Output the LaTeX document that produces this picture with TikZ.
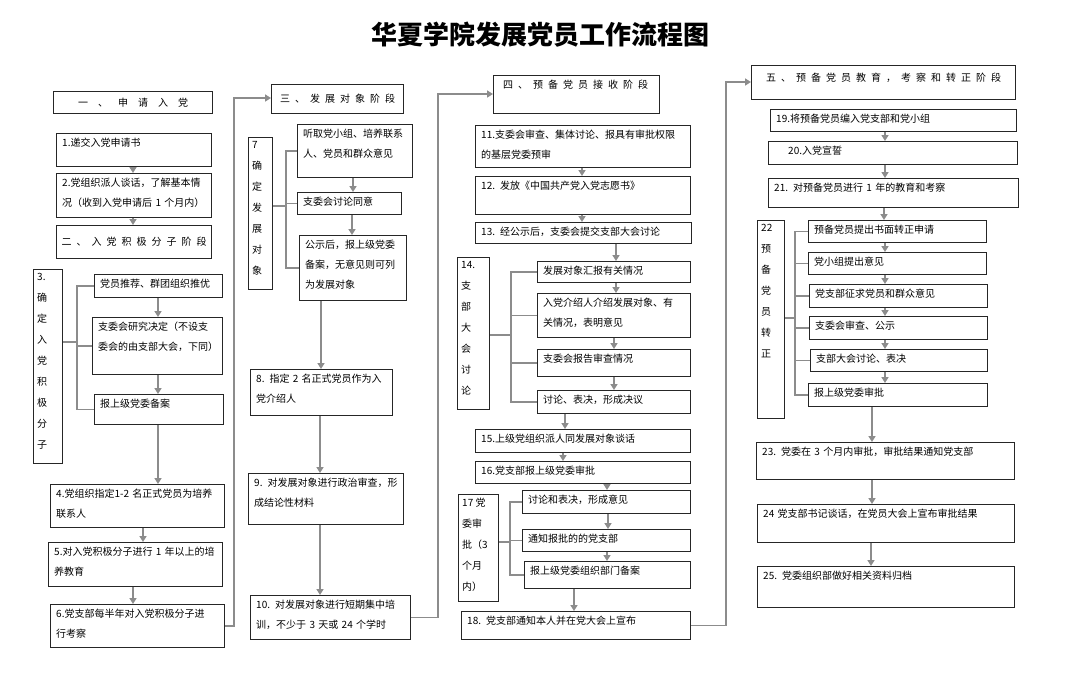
\documentclass[tikz,border=0pt]{standalone}
\usepackage{fontspec}
\setmainfont{Noto Sans CJK SC}
\usetikzlibrary{positioning, arrows.meta}

% box with its text set at the top left
\newcommand{\fbx}[6]{%
	\node[box, minimum width={#4-#2}, minimum height={#5-#3}] (#1) at (#2,-#3) {};
	\node[txt, text width={#4-#2-8}] (#1t) at ([shift={(4,-3)}]#1.north west) {#6};
}

\begin{document}
\begin{tikzpicture}[x=1pt, y=1pt,
		box/.style={rectangle, draw=black!85, line width=1.1pt, anchor=north west, inner sep=0pt},
		txt/.style={anchor=north west, inner sep=2pt, align=left, font=\fontsize{10}{20}\selectfont},
		vtxt/.style={anchor=north west, inner sep=2pt, align=left, font=\fontsize{10}{21}\selectfont},
		htxt/.style={anchor=center, inner sep=0pt, font=\fontsize{10}{12}\selectfont},
		arr/.style={draw=black!45, line width=1.7pt, -{Triangle[length=6pt, width=7pt]}},
		brk/.style={draw=black!45, line width=1.4pt}
	]
	\useasboundingbox[fill=white] (0,0) rectangle (1080,-673);

	\node[font=\fontsize{26}{30}\selectfont\bfseries] (title) at (540,-35) {华夏学院发展党员工作流程图};

	% column one
	\fbx{h1}{53}{91}{212}{113}{}
	\node[htxt] (h1t) at (h1) {一\quad 、\quad 申\quad 请\quad 入\quad 党};
	\fbx{b1}{56}{133}{211}{166}{1.递交入党申请书}
	\fbx{b2}{56}{173}{211}{217}{2.党组织派人谈话，了解基本情\\况（收到入党申请后 1 个月内）}
	\fbx{h2}{56}{225}{211}{258}{}
	\node[htxt] (h2t) at (h2) {二\enspace 、\enspace 入\enspace 党\enspace 积\enspace 极\enspace 分\enspace 子\enspace 阶\enspace 段};
	\node[box, minimum width=29, minimum height=194] (l3) at (33,-269) {};
	\node[vtxt] (l3t) at ([shift={(2,-2)}]l3.north west) {3.\\确\\定\\入\\党\\积\\极\\分\\子};
	\fbx{sa}{94}{274}{222}{297}{党员推荐、群团组织推优}
	\fbx{sb}{92}{317}{222}{374}{支委会研究决定（不设支\\委会的由支部大会，下同）}
	\fbx{sc}{94}{394}{223}{424}{报上级党委备案}
	\fbx{b4}{50}{484}{224}{527}{4.党组织指定1-2 名正式党员为培养\\联系人}
	\fbx{b5}{48}{542}{222}{586}{5.对入党积极分子进行 1 年以上的培\\养教育}
	\fbx{b6}{50}{604}{224}{647}{6.党支部每半年对入党积极分子进\\行考察}

	% column two
	\fbx{h3}{271}{84}{403}{113}{}
	\node[htxt] (h3t) at (h3) {三\enspace 、\enspace 发\enspace 展\enspace 对\enspace 象\enspace 阶\enspace 段};
	\node[box, minimum width=24, minimum height=152] (l7) at (248,-137) {};
	\node[vtxt] (l7t) at ([shift={(2,-2)}]l7.north west) {7\\确\\定\\发\\展\\对\\象};
	\fbx{da}{297}{124}{412}{177}{听取党小组、培养联系\\人、党员和群众意见}
	\fbx{db}{297}{192}{401}{214}{支委会讨论同意}
	\fbx{dc}{299}{235}{406}{300}{公示后，报上级党委\\备案，无意见则可列\\为发展对象}
	\fbx{b8}{250}{369}{392}{415}{8. 指定 2 名正式党员作为入\\党介绍人}
	\fbx{b9}{248}{473}{403}{524}{9. 对发展对象进行政治审查，形\\成结论性材料}
	\fbx{b10}{250}{595}{410}{639}{10. 对发展对象进行短期集中培\\训，不少于 3 天或 24 个学时}

	% column three
	\fbx{h4}{493}{75}{659}{113}{\hspace*{4pt}四\enspace 、\enspace 预\enspace 备\enspace 党\enspace 员\enspace 接\enspace 收\enspace 阶\enspace 段}
	\fbx{b11}{475}{125}{690}{167}{11.支委会审查、集体讨论、报具有审批权限\\的基层党委预审}
	\fbx{b12}{475}{176}{690}{214}{12. 发放《中国共产党入党志愿书》}
	\fbx{b13}{475}{222}{691}{243}{13. 经公示后，支委会提交支部大会讨论}
	\node[box, minimum width=32, minimum height=152] (l14) at (457,-257) {};
	\node[vtxt] (l14t) at ([shift={(2,-2)}]l14.north west) {14.\\支\\部\\大\\会\\讨\\论};
	\fbx{ea}{537}{261}{690}{282}{发展对象汇报有关情况}
	\fbx{eb}{537}{293}{690}{337}{入党介绍人介绍发展对象、有\\关情况，表明意见}
	\fbx{ec}{537}{349}{690}{376}{支委会报告审查情况}
	\fbx{ed}{537}{390}{690}{413}{讨论、表决，形成决议}
	\fbx{b15}{475}{429}{690}{452}{15.上级党组织派人同发展对象谈话}
	\fbx{b16}{475}{461}{690}{483}{16.党支部报上级党委审批}
	\node[box, minimum width=40, minimum height=107] (l17) at (458,-494) {};
	\node[vtxt] (l17t) at ([shift={(2,-2)}]l17.north west) {17 党\\委审\\批（3\\个月\\内）};
	\fbx{fa}{522}{490}{690}{513}{讨论和表决，形成意见}
	\fbx{fb}{522}{529}{690}{551}{通知报批的的党支部}
	\fbx{fc}{524}{561}{690}{588}{报上级党委组织部门备案}
	\fbx{b18}{461}{611}{690}{639}{18. 党支部通知本人并在党大会上宣布}

	% column four
	\fbx{h5}{751}{65}{1015}{99}{}
	\node[htxt] (h5t) at ([yshift=5]h5) {五\enspace 、\enspace 预\enspace 备\enspace 党\enspace 员\enspace 教\enspace 育\enspace ，\enspace 考\enspace 察\enspace 和\enspace 转\enspace 正\enspace 阶\enspace 段};
	\fbx{b19}{770}{109}{1016}{131}{19.将预备党员编入党支部和党小组}
	\fbx{b20}{768}{141}{1017}{164}{\hspace*{14pt}20.入党宣誓}
	\fbx{b21}{768}{178}{1018}{207}{21. 对预备党员进行 1 年的教育和考察}
	\node[box, minimum width=27, minimum height=198] (l22) at (757,-220) {};
	\node[vtxt] (l22t) at ([shift={(2,-2)}]l22.north west) {22\\预\\备\\党\\员\\转\\正};
	\fbx{ga}{808}{220}{986}{242}{预备党员提出书面转正申请}
	\fbx{gb}{808}{252}{986}{274}{党小组提出意见}
	\fbx{gc}{809}{284}{987}{307}{党支部征求党员和群众意见}
	\fbx{gd}{809}{316}{987}{339}{支委会审查、公示}
	\fbx{ge}{810}{349}{987}{371}{支部大会讨论、表决}
	\fbx{gf}{808}{383}{987}{406}{报上级党委审批}
	\fbx{b23}{756}{442}{1014}{479}{23. 党委在 3 个月内审批，审批结果通知党支部}
	\fbx{b24}{757}{504}{1014}{542}{24 党支部书记谈话，在党员大会上宣布审批结果}
	\fbx{b25}{757}{566}{1014}{607}{25. 党委组织部做好相关资料归档}

	% arrows down the columns
	\foreach \i/\j/\x in {b1/b2/133, b2/h2/133, sa/sb/158, sb/sc/158, sc/b4/158, b4/b5/143, b5/b6/133,
		da/db/353, db/dc/352, dc/b8/321, b8/b9/320, b9/b10/320,
		b11/b12/582, b12/b13/582, b13/ea/616, ea/eb/616, eb/ec/614, ec/ed/614, ed/b15/565, b15/b16/563,
		b16/fa/607, fa/fb/608, fb/fc/607, fc/b18/574,
		b19/b20/885, b20/b21/885, b21/ga/884, ga/gb/885, gb/gc/885, gc/gd/885, gd/ge/885, ge/gf/885,
		gf/b23/872, b23/b24/872, b24/b25/871}
		\draw[arr] (\i.south -| \x,0) -- (\j.north -| \x,0);

	% brackets
	\coordinate (k3) at (77,-342);
	\coordinate (k7) at (286,-206);
	\coordinate (k14) at (511,-335);
	\coordinate (k17) at (510,-542);
	\coordinate (k22) at (795,-318);
	\foreach \l/\k/\a/\z in {l3/k3/sa/sc, l7/k7/da/dc, l14/k14/ea/ed, l17/k17/fa/fc, l22/k22/ga/gf} {
		\draw[brk] (\l.east |- \k) -- (\k);
		\draw[brk] (\a.west) -| (\k) |- (\z.west);
	}
	\foreach \k/\m in {k3/sb, k7/db, k14/eb, k14/ec, k17/fb, k22/gb, k22/gc, k22/gd, k22/ge}
		\draw[brk] (\k |- \m.west) -- (\m.west);

	% from one stage to the next
	\coordinate (j1) at (234,-98);
	\coordinate (j2) at (438,-94);
	\coordinate (j3) at (726,-82);
	\draw[arr] (b6.east) -| (j1) -- (h3.west |- j1);
	\draw[arr] (b10.east) -| (j2) -- (h4.west |- j2);
	\draw[arr] (b18.east) -| (j3) -- (h5.west |- j3);
\end{tikzpicture}
\end{document}
